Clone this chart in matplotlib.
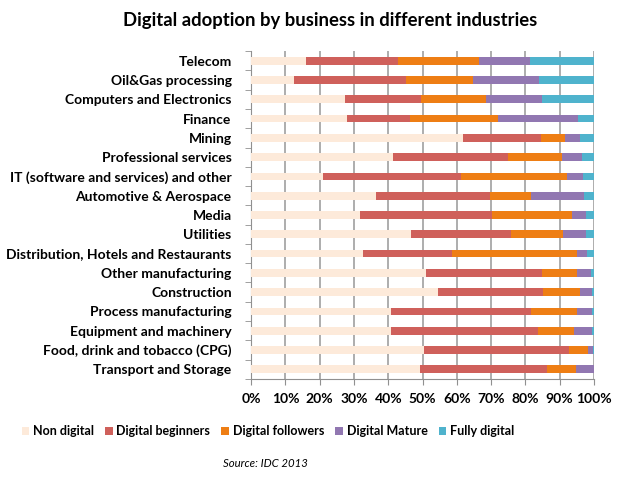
import numpy as np
import matplotlib.pyplot as plt
from matplotlib.ticker import MultipleLocator, PercentFormatter

plt.rcParams['font.family'] = ['Lato', 'DejaVu Sans']

industries = ['Telecom', 'Oil&Gas processing', 'Computers and Electronics', 'Finance',
              'Mining', 'Professional services', 'IT (software and services) and other',
              'Automotive & Aerospace', 'Media', 'Utilities',
              'Distribution, Hotels and Restaurants', 'Other manufacturing', 'Construction',
              'Process manufacturing', 'Equipment and machinery',
              'Food, drink and tobacco (CPG)', 'Transport and Storage']

series_names = ['Non digital', 'Digital beginners', 'Digital followers', 'Digital Mature', 'Fully digital']

non_digital = [16.0, 12.6, 27.4, 28.1, 61.9, 41.5, 21.1, 36.5, 31.8, 46.5, 32.7, 50.9, 54.5, 40.9, 40.9, 50.4, 49.4]
beginners = [26.7, 32.6, 22.1, 18.2, 22.6, 33.3, 40.1, 33.3, 38.5, 29.2, 26.0, 34.0, 30.6, 40.6, 42.9, 42.2, 36.8]
followers = [23.8, 19.6, 18.9, 25.6, 7.0, 16.0, 30.8, 11.9, 23.4, 15.3, 36.4, 10.2, 10.7, 13.6, 10.4, 5.7, 8.5]
mature = [14.8, 19.1, 16.5, 23.3, 4.4, 5.7, 4.9, 15.5, 3.9, 6.8, 3.0, 3.9, 3.7, 4.4, 5.3, 1.4, 5.2]
fully = [18.7, 16.0, 15.1, 4.8, 4.1, 3.5, 3.1, 2.8, 2.4, 2.2, 1.9, 1.0, 0.5, 0.5, 0.5, 0.3, 0.1]

colors = ['#FDEADA', '#CF605B', '#EE7E14', '#9177B1', '#4FB3CD']

fig = plt.figure(figsize=(6.2, 4.87), dpi=100)
ax = fig.add_axes([0.405, 0.222, 0.553, 0.673])

data = np.array([non_digital, beginners, followers, mature, fully])
y = np.arange(len(industries))
left = np.zeros(len(industries))
for vals, name, c in zip(data, series_names, colors):
    ax.barh(y, vals, left=left, height=0.4, color=c, label=name, zorder=3)
    left += vals

ax.set_ylim(len(industries) - 0.5, -0.5)
ax.set_xlim(0, 100)
ax.set_yticks(y)
ax.set_yticklabels(industries, fontsize=10, fontweight='bold')
ax.set_yticks(np.arange(len(industries) + 1) - 0.5, minor=True)
ax.tick_params(axis='y', which='major', length=0, pad=14)
ax.tick_params(axis='y', which='minor', length=4, color='#909090', direction='out')
ax.xaxis.set_major_locator(MultipleLocator(10))
ax.xaxis.set_major_formatter(PercentFormatter(decimals=0))
ax.tick_params(axis='x', length=4, color='#909090', labelsize=10, pad=6)
for lab in ax.get_xticklabels():
    lab.set_fontweight('bold')
ax.grid(axis='x', color='#A0A0A0', linewidth=1.2, zorder=0)
for s in ['top', 'right']:
    ax.spines[s].set_visible(False)
for s in ['left', 'bottom']:
    ax.spines[s].set_color('#909090')

fig.text(0.532, 0.958, 'Digital adoption by business in different industries',
         ha='center', va='center', fontsize=13.3, fontweight='bold')

fig.legend(loc='center', bbox_to_anchor=(0.432, 0.115), ncol=5, frameon=False,
           handlelength=0.6, handleheight=0.6, handletextpad=0.3, columnspacing=0.9,
           prop={'size': 9, 'weight': 'bold'})

fig.text(0.428, 0.049, 'Source: IDC 2013', ha='center', va='center', fontsize=8.2, style='italic')

fig.savefig('out.png', dpi=100)
